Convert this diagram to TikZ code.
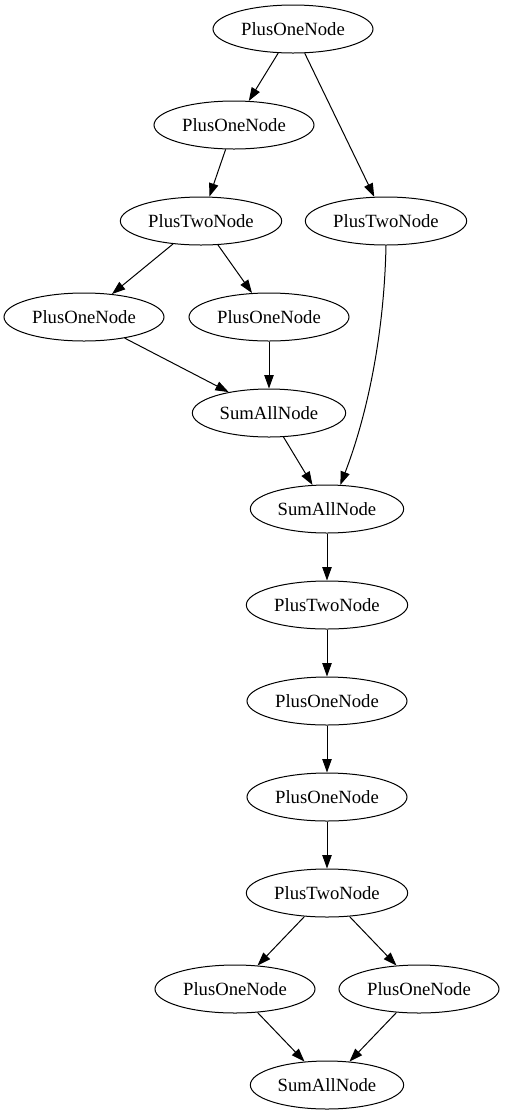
\documentclass[tikz,border=0pt]{standalone}
\usepackage{fontspec}
\setmainfont{Liberation Serif}
\usetikzlibrary{shapes.geometric,arrows.meta}
\begin{document}
\begin{tikzpicture}[x=0.75pt,y=-0.75pt,
  gnode/.style={draw,ellipse,inner sep=0pt,minimum height=36pt,line width=0.75pt,font=\fontsize{14}{16}\selectfont},
  plusone/.style={gnode,minimum width=120pt},
  plustwo/.style={gnode,minimum width=121pt},
  sumall/.style={gnode,minimum width=115pt},
  edge/.style={draw,line width=0.75pt,-{Triangle[length=10pt,width=7pt]}}]
\useasboundingbox (0,0) rectangle (505,1115);
\node[plusone] (n1) at (293,29) {PlusOneNode};
\node[plusone] (n2) at (234,125) {PlusOneNode};
\node[plustwo] (n3) at (201,221) {PlusTwoNode};
\node[plustwo] (n4) at (386,221) {PlusTwoNode};
\node[plusone] (n5) at (84,317) {PlusOneNode};
\node[plusone] (n6) at (269,317) {PlusOneNode};
\node[sumall] (n7) at (269,413) {SumAllNode};
\node[sumall] (n8) at (327,509) {SumAllNode};
\node[plustwo] (n9) at (327,605) {PlusTwoNode};
\node[plusone] (n10) at (327,701) {PlusOneNode};
\node[plusone] (n11) at (327,797) {PlusOneNode};
\node[plustwo] (n12) at (327,893) {PlusTwoNode};
\node[plusone] (n13) at (235,989) {PlusOneNode};
\node[plusone] (n14) at (419,989) {PlusOneNode};
\node[sumall] (n15) at (327,1085) {SumAllNode};
\draw[edge] (n1) -- (n2);
\draw[edge] (n1) -- (n4);
\draw[edge] (n2) -- (n3);
\draw[edge] (n3) -- (n5);
\draw[edge] (n3) -- (n6);
\draw[edge] (n5) -- (n7);
\draw[edge] (n6) -- (n7);
\draw[edge] (n7) -- (n8);
\draw[edge] (n4.south) .. controls ++(-2,95) and ++(25,-65) .. (n8.61);
\draw[edge] (n8) -- (n9);
\draw[edge] (n9) -- (n10);
\draw[edge] (n10) -- (n11);
\draw[edge] (n11) -- (n12);
\draw[edge] (n12) -- (n13);
\draw[edge] (n12) -- (n14);
\draw[edge] (n13) -- (n15);
\draw[edge] (n14) -- (n15);
\end{tikzpicture}
\end{document}
